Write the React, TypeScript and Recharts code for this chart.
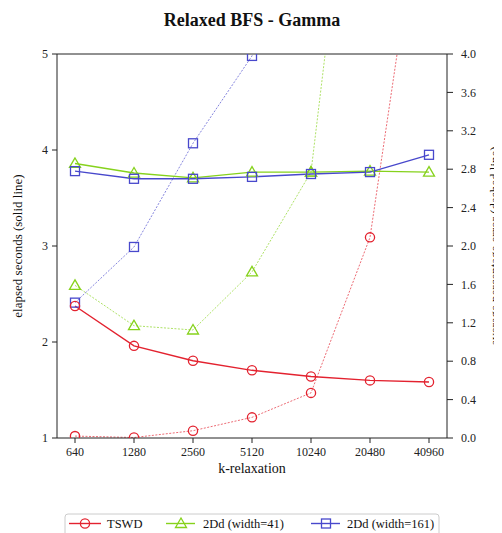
import React from 'react';
import { LineChart, Line, XAxis, YAxis, ReferenceLine, Label } from 'recharts';

const kValues = ['640', '1280', '2560', '5120', '10240', '20480', '40960'];
const tswdTime = [2.375, 1.96, 1.805, 1.705, 1.64, 1.60, 1.583];
const tswdErr = [0.02, 0.005, 0.076, 0.215, 0.47, 2.09, 6.25];
const dd41Time = [3.86, 3.76, 3.71, 3.77, 3.77, 3.78, 3.77];
const dd41Err = [1.59, 1.17, 1.125, 1.73, 2.77, 7.9, 12.0];
const dd161Time = [3.78, 3.70, 3.70, 3.72, 3.75, 3.77, 3.95];
const dd161Err = [1.41, 1.99, 3.07, 3.98, 5.5, 7.0, 9.0];
const leftTicks = [1, 2, 3, 4, 5];
const rightTicks = [0, 0.4, 0.8, 1.2, 1.6, 2.0, 2.4, 2.8, 3.2, 3.6, 4.0];
const seriesNames = ['TSWD', '2Dd (width=41)', '2Dd (width=161)'];

const data = kValues.map((k, i) => ({
  k,
  tswdTime: tswdTime[i],
  tswdErr: tswdErr[i],
  dd41Time: dd41Time[i],
  dd41Err: dd41Err[i],
  dd161Time: dd161Time[i],
  dd161Err: dd161Err[i],
}));

const RED = '#e3222f';
const GREEN = '#86d21c';
const BLUE = '#4848cc';
const FONT = '"Liberation Serif", "DejaVu Serif", serif';
const AXIS = '#222';
const CHART_W = 494;
const CHART_H = 500;
const MARGIN = { top: 46, right: 0, bottom: 30, left: 0 };
const X_AXIS_H = 40;

const Marker = ({ kind, cx, cy, color }: any) => {
  if (cx == null || cy == null || isNaN(cx) || isNaN(cy)) return <g />;
  if (kind === 'circle') {
    return <circle cx={cx} cy={cy} r={4.6} fill="none" stroke={color} strokeWidth={1.3} />;
  }
  if (kind === 'tri') {
    return (
      <polygon
        points={`${cx},${cy - 5.5} ${cx - 5.5},${cy + 4} ${cx + 5.5},${cy + 4}`}
        fill="none"
        stroke={color}
        strokeWidth={1.3}
      />
    );
  }
  return <rect x={cx - 4.5} y={cy - 4.5} width={9} height={9} fill="none" stroke={color} strokeWidth={1.3} />;
};

const makeDot = (kind: string, color: string) => (p: any) => (
  <Marker key={`${kind}-${color}-${p.index}`} kind={kind} cx={p.cx} cy={p.cy} color={color} />
);

const tickStyle = { fontFamily: FONT, fontSize: 12, fill: '#222' };

const plotTop = MARGIN.top;
const plotBottom = CHART_H - MARGIN.bottom - X_AXIS_H;
const plotMidY = (plotTop + plotBottom) / 2;

const VLabel = ({ x, text }: { x: number; text: string }) => (
  <text
    x={x}
    y={plotMidY}
    transform={`rotate(-90, ${x}, ${plotMidY})`}
    textAnchor="middle"
    dominantBaseline="central"
    fontFamily={FONT}
    fontSize={13}
    fill="#111"
  >
    {text}
  </text>
);

export default function App() {
  return (
    <div style={{ position: 'relative', width: CHART_W, height: 525, fontFamily: FONT }}>
      <div
        style={{
          position: 'absolute',
          left: 0,
          top: 0,
          width: 488,
          textAlign: 'center',
          fontSize: 18,
          fontWeight: 'bold',
          lineHeight: '24px',
          color: '#111',
        }}
      >
        Relaxed BFS - Gamma
      </div>
      <LineChart width={CHART_W} height={CHART_H} data={data} margin={MARGIN}>
        <XAxis
          dataKey="k"
          padding={{ left: 18, right: 18 }}
          height={X_AXIS_H}
          tickSize={5}
          tickMargin={4}
          tick={tickStyle}
          stroke={AXIS}
          tickLine={{ stroke: AXIS }}
          axisLine={{ stroke: AXIS }}
        >
          <Label
            content={({ viewBox }: any) => (
              <text
                x={viewBox.x + viewBox.width / 2}
                y={plotBottom + 35}
                textAnchor="middle"
                fontFamily={FONT}
                fontSize={14}
                fill="#111"
              >
                k-relaxation
              </text>
            )}
          />
        </XAxis>
        <YAxis
          yAxisId="left"
          width={49}
          domain={[1, 5]}
          ticks={leftTicks}
          allowDataOverflow
          tickSize={5}
          tickMargin={4}
          tick={tickStyle}
          stroke={AXIS}
          tickLine={{ stroke: AXIS }}
          axisLine={{ stroke: AXIS }}
        >
          <Label content={() => <VLabel x={9} text="elapsed seconds (solid line)" />} />
        </YAxis>
        <YAxis
          yAxisId="right"
          orientation="right"
          width={55}
          domain={[0, 4]}
          ticks={rightTicks}
          allowDataOverflow
          tickFormatter={(v: number) => v.toFixed(1)}
          tickSize={6}
          tickMargin={8}
          tick={tickStyle}
          stroke={AXIS}
          tickLine={{ stroke: AXIS }}
          axisLine={{ stroke: AXIS }}
        >
          <Label content={() => <VLabel x={CHART_W - 8} text="average percentage error (dashed line)" />} />
        </YAxis>
        <ReferenceLine yAxisId="left" y={5} stroke={AXIS} strokeWidth={1} />

        <Line yAxisId="right" dataKey="tswdErr" stroke={RED} strokeWidth={0.9} strokeDasharray="2 1.5" strokeOpacity={0.75} dot={makeDot('circle', RED)} isAnimationActive={false} />
        <Line yAxisId="right" dataKey="dd41Err" stroke={GREEN} strokeWidth={0.9} strokeDasharray="2 1.5" strokeOpacity={0.75} dot={makeDot('tri', GREEN)} isAnimationActive={false} />
        <Line yAxisId="right" dataKey="dd161Err" stroke={BLUE} strokeWidth={0.9} strokeDasharray="2 1.5" strokeOpacity={0.75} dot={makeDot('sq', BLUE)} isAnimationActive={false} />

        <Line yAxisId="left" dataKey="tswdTime" stroke={RED} strokeWidth={1.4} dot={makeDot('circle', RED)} isAnimationActive={false} />
        <Line yAxisId="left" dataKey="dd41Time" stroke={GREEN} strokeWidth={1.4} dot={makeDot('tri', GREEN)} isAnimationActive={false} />
        <Line yAxisId="left" dataKey="dd161Time" stroke={BLUE} strokeWidth={1.4} dot={makeDot('sq', BLUE)} isAnimationActive={false} />
      </LineChart>
      <svg
        width={376}
        height={20}
        style={{ position: 'absolute', left: 56, top: 505, overflow: 'hidden' }}
      >
        <rect x={1} y={1} width={374} height={28} rx={3} fill="#fff" stroke="#ccc" strokeWidth={1} />
        <line x1={5} y1={10.5} x2={37} y2={10.5} stroke={RED} strokeWidth={1.4} />
        <Marker kind="circle" cx={21} cy={10.5} color={RED} />
        <text x={43} y={15} fontFamily={FONT} fontSize={12.5} fill="#111">{seriesNames[0]}</text>
        <line x1={102} y1={10.5} x2={131} y2={10.5} stroke={GREEN} strokeWidth={1.4} />
        <Marker kind="tri" cx={117} cy={10.5} color={GREEN} />
        <text x={139} y={15} fontFamily={FONT} fontSize={12.5} fill="#111">{seriesNames[1]}</text>
        <line x1={247} y1={10.5} x2={276} y2={10.5} stroke={BLUE} strokeWidth={1.4} />
        <Marker kind="sq" cx={262} cy={10.5} color={BLUE} />
        <text x={283} y={15} fontFamily={FONT} fontSize={12.5} fill="#111">{seriesNames[2]}</text>
      </svg>
    </div>
  );
}
